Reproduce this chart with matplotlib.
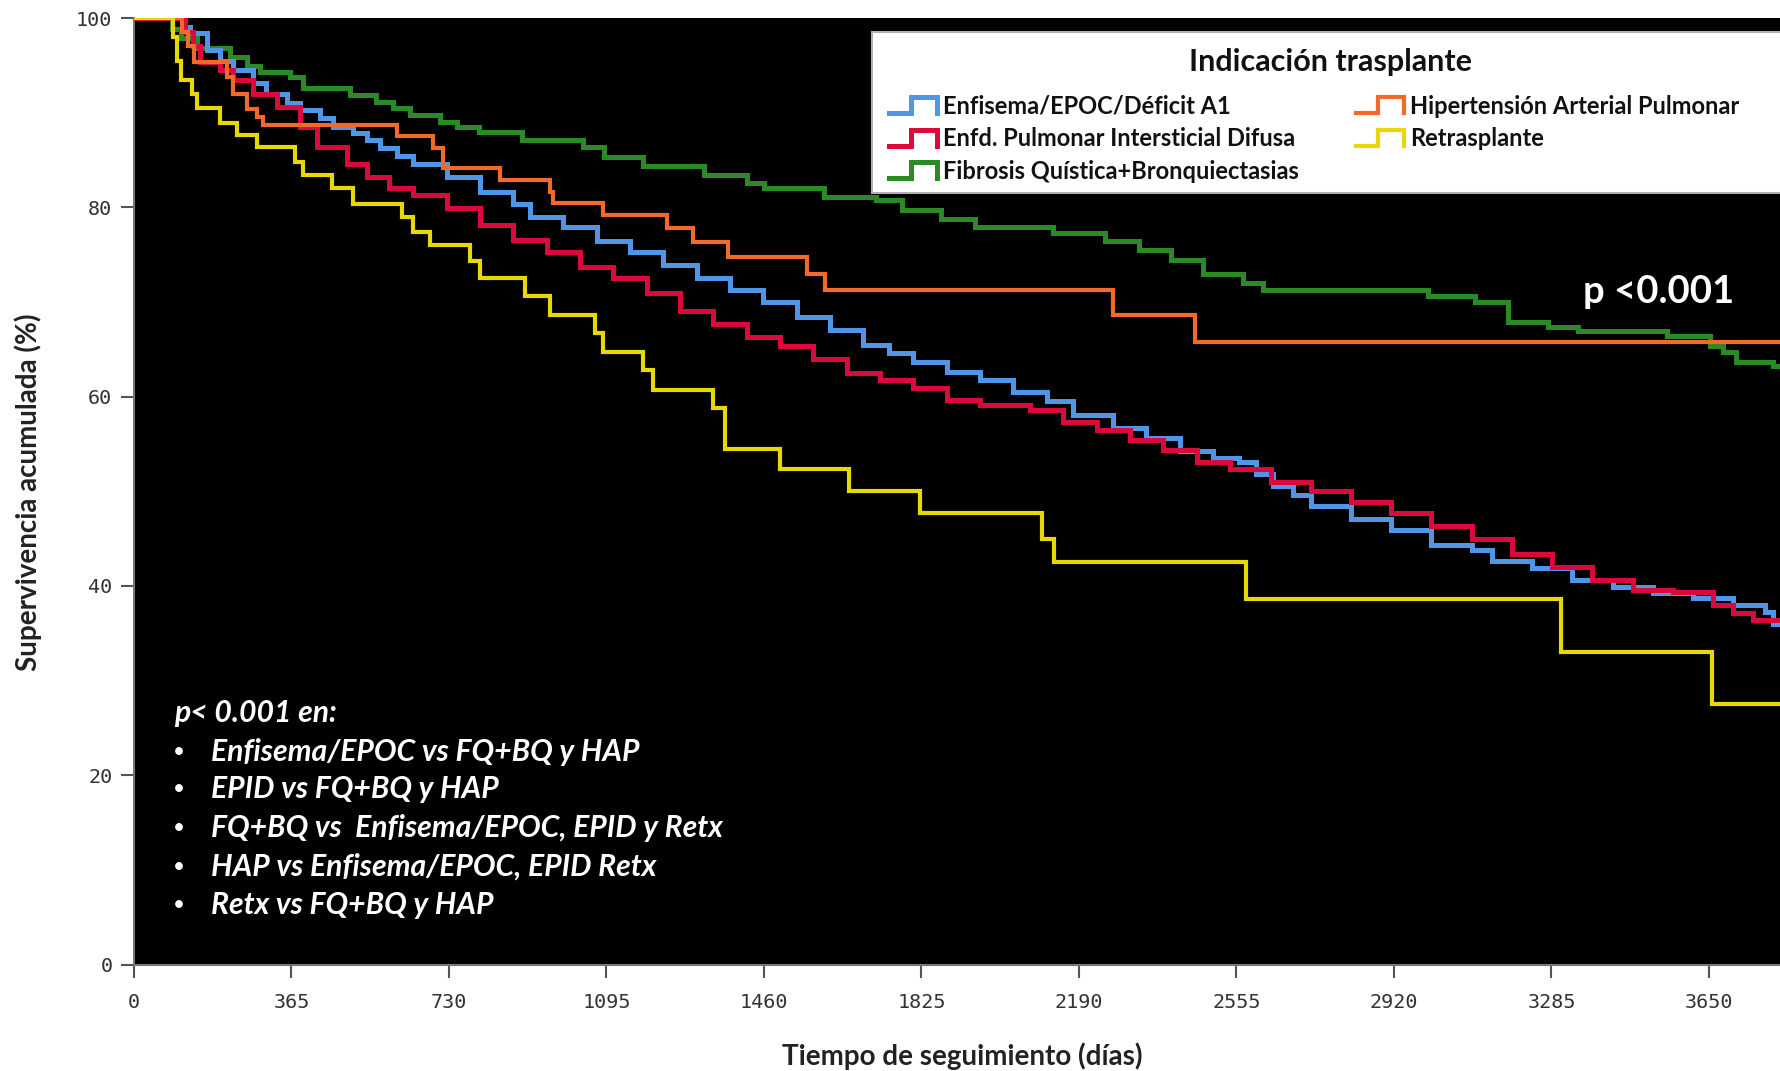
import matplotlib
matplotlib.use("Agg")
import matplotlib.pyplot as plt
from matplotlib.lines import Line2D
from matplotlib.patches import Rectangle
from matplotlib.legend_handler import HandlerBase

# Kaplan-Meier curves: day where each step starts, survival (%)
enf_t = [0, 115, 130, 169, 200, 230, 276, 307, 354, 385, 431, 462, 508, 539, 570, 610,
         647, 725, 802, 879, 917, 995, 1072, 1149, 1226, 1304, 1381, 1458, 1536, 1613,
         1690, 1750, 1805, 1884, 1960, 2037, 2115, 2176, 2269, 2346, 2424, 2501, 2560,
         2600, 2640, 2686, 2727, 2820, 2913, 3007, 3100, 3147, 3239, 3333, 3427, 3520,
         3612, 3706, 3780, 3799, 3820]
enf_s = [100, 99.0, 98.4, 96.6, 95.5, 94.5, 93.1, 92.0, 91.0, 90.3, 89.4, 88.5, 87.8, 87.1,
         86.3, 85.4, 84.6, 83.2, 81.6, 80.4, 79.0, 77.9, 76.4, 75.3, 73.9, 72.5, 71.3, 70.0,
         68.4, 67.0, 65.5, 64.6, 63.7, 62.6, 61.8, 60.5, 59.5, 58.1, 56.7, 55.6, 54.2, 53.5,
         53.1, 51.8, 50.6, 49.6, 48.4, 47.1, 45.9, 44.3, 43.8, 42.6, 41.9, 40.6, 39.9, 39.2,
         38.7, 38.0, 37.2, 36.0, 36.0]

epid_t = [0, 118, 137, 153, 199, 230, 276, 331, 385, 424, 493, 539, 590, 647, 725, 802,
          879, 957, 1033, 1110, 1188, 1265, 1342, 1420, 1497, 1574, 1652, 1728, 1805, 1884,
          1960, 2076, 2153, 2231, 2308, 2385, 2463, 2540, 2634, 2727, 2820, 2913, 3007,
          3100, 3193, 3286, 3380, 3473, 3566, 3659, 3706, 3752, 3820]
epid_s = [100, 98.5, 97.0, 95.4, 94.5, 93.5, 92.0, 90.6, 88.5, 86.4, 84.6, 83.2, 82.0, 81.3,
          79.9, 78.1, 76.5, 75.3, 73.7, 72.5, 70.9, 69.0, 67.7, 66.3, 65.3, 64.0, 62.5, 61.8,
          60.9, 59.6, 59.1, 58.6, 57.3, 56.5, 55.4, 54.4, 53.1, 52.4, 51.0, 50.0, 48.9, 47.7,
          46.3, 45.0, 43.4, 42.0, 40.6, 39.6, 39.4, 38.0, 37.1, 36.4, 36.4]

fq_t = [0, 88, 110, 145, 222, 261, 292, 361, 392, 500, 560, 600, 640, 710, 748, 800, 900,
        1040, 1090, 1180, 1320, 1420, 1460, 1600, 1720, 1780, 1870, 1950, 2130, 2250, 2328,
        2404, 2478, 2570, 2617, 3000, 3108, 3185, 3278, 3347, 3552, 3652, 3682, 3713, 3798,
        3820]
fq_s = [100, 98.8, 97.9, 96.8, 95.9, 94.9, 94.3, 93.8, 92.6, 91.9, 91.1, 90.5, 89.8, 89.0,
        88.5, 88.0, 87.1, 86.4, 85.3, 84.4, 83.4, 82.6, 82.0, 81.1, 80.8, 79.7, 78.8, 77.9,
        77.3, 76.4, 75.5, 74.4, 73.0, 72.0, 71.3, 70.6, 70.0, 67.9, 67.4, 66.9, 66.4, 65.3,
        64.7, 63.7, 63.2, 63.2]

hap_t = [0, 111, 125, 138, 215, 230, 261, 284, 299, 609, 693, 716, 848, 964, 971, 1087,
         1235, 1295, 1376, 1559, 1601, 2270, 2460, 3820]
hap_s = [100, 98.5, 97.0, 95.4, 93.8, 92.0, 90.4, 89.5, 88.7, 87.5, 86.3, 84.1, 82.9, 81.6,
         80.5, 79.2, 77.8, 76.3, 74.8, 73.0, 71.3, 68.6, 65.8, 65.8]

retx_t = [0, 91, 99, 110, 134, 145, 199, 238, 284, 373, 392, 458, 508, 621, 647, 686, 778,
          801, 906, 964, 1068, 1087, 1180, 1203, 1342, 1370, 1496, 1658, 1821, 2104, 2131,
          2577, 3306, 3658, 3820]
retx_s = [100, 98.0, 95.5, 93.5, 92.0, 90.5, 88.9, 87.6, 86.4, 84.8, 83.4, 82.0, 80.4, 79.0,
          77.4, 76.0, 74.3, 72.5, 70.6, 68.6, 66.7, 64.7, 62.8, 60.7, 58.8, 54.5, 52.3, 50.0,
          47.7, 45.0, 42.5, 38.6, 33.0, 27.5, 27.5]

labels = ["Enfisema/EPOC/Déficit A1", "Enfd. Pulmonar Intersticial Difusa",
          "Fibrosis Quística+Bronquiectasias", "Hipertensión Arterial Pulmonar", "Retrasplante"]
colors = ["#4f95e8", "#dc0a3c", "#2a8a26", "#f26a2a", "#e6d800"]

xticks = [0, 365, 730, 1095, 1460, 1825, 2190, 2555, 2920, 3285, 3650]
yticks = [0, 20, 40, 60, 80, 100]

notes = ["Enfisema/EPOC vs FQ+BQ y HAP",
         "EPID vs FQ+BQ y HAP",
         "FQ+BQ vs  Enfisema/EPOC, EPID y Retx",
         "HAP vs Enfisema/EPOC, EPID Retx",
         "Retx vs FQ+BQ y HAP"]

W, H = 1781, 1071


def fx(px):
    return px / W


def fy(py):
    return 1 - py / H


class StepHandler(HandlerBase):
    """Little stair-shaped legend key like the original software draws."""
    def create_artists(self, legend, orig_handle, xdescent, ydescent, width, height,
                       fontsize, trans):
        x0, y0 = -xdescent, -ydescent
        xs = [x0, x0 + 0.45 * width, x0 + 0.45 * width, x0 + width, x0 + width]
        ys = [y0 + 0.05 * height, y0 + 0.05 * height, y0 + 1.0 * height,
              y0 + 1.0 * height, y0 + 0.05 * height]
        line = Line2D(xs, ys, color=orig_handle.get_color(),
                      linewidth=orig_handle.get_linewidth(), solid_joinstyle="miter")
        line.set_transform(trans)
        return [line]


fig = plt.figure(figsize=(W / 100, H / 100), dpi=100)
fig.patch.set_facecolor("white")
ax = fig.add_axes([fx(134), fy(964.5), (W - 134) / W, (964.5 - 18) / H])
ax.set_facecolor("black")

series = [(enf_t, enf_s), (epid_t, epid_s), (fq_t, fq_s), (hap_t, hap_s), (retx_t, retx_s)]
widths = [3.6, 3.6, 3.6, 3.0, 3.0]
zorders = [3, 4, 2, 5, 6]
handles = []
for (t, s), lab, c, lw, z in zip(series, labels, colors, widths, zorders):
    h, = ax.step(t, s, where="post", color=c, lw=lw, label=lab, zorder=z,
                 solid_joinstyle="miter")
    handles.append(h)

ax.set_xlim(0, 3817)
ax.set_ylim(0, 100)
ax.set_xticks(xticks)
ax.set_yticks(yticks)
ax.tick_params(direction="out", length=9.5, width=1.5, color="#555555",
               labelsize=14.5, labelcolor="#333333")
ax.tick_params(axis="x", pad=11)
ax.tick_params(axis="y", pad=6)
for lbl in ax.get_xticklabels() + ax.get_yticklabels():
    lbl.set_fontfamily("DejaVu Sans Mono")
for side in ["top", "right"]:
    ax.spines[side].set_visible(False)
for side in ["left", "bottom"]:
    ax.spines[side].set_color("#777777")
    ax.spines[side].set_linewidth(1.5)

# legend box runs off the right edge like in the original
box = Rectangle((fx(872), fy(193)), fx(1800) - fx(872), (193 - 32) / H,
                transform=fig.transFigure, facecolor="white", edgecolor="#b0b0b0",
                linewidth=1.5, zorder=9)
fig.patches.append(box)
fig.text(fx(1331), fy(62), "Indicación trasplante", ha="center", va="center",
         fontsize=22, fontweight="bold", family="Lato", color="#111111", zorder=11)

leg = fig.legend(handles, labels, handler_map={Line2D: StepHandler()},
                 loc="upper left", bbox_to_anchor=(fx(889), fy(95)), ncol=2,
                 prop={"family": "Lato", "weight": "bold", "size": 17},
                 frameon=False, handlelength=2.05, handleheight=0.7, handletextpad=0.25,
                 columnspacing=2.4, labelspacing=0.4, borderpad=0, borderaxespad=0)
leg.set_zorder(10)
for t in leg.get_texts():
    t.set_color("#111111")

# texto de significacion
txt = dict(color="white", fontsize=21.7, fontstyle="italic", fontweight="bold",
           family="Lato", va="center")
fig.text(fx(174), fy(713), "p< 0.001 en:", **txt)
for i, line in enumerate(notes):
    yy = [752, 789, 828, 867, 905][i]
    fig.text(fx(173), fy(yy), "•", color="white", fontsize=15, family="Lato", va="center")
    fig.text(fx(211), fy(yy), line, **txt)

fig.text(fx(1659), fy(292), "p <0.001", ha="center", va="center", color="white",
         fontsize=27.5, fontweight="bold", family="Lato")

fig.text(fx(962), fy(1056), "Tiempo de seguimiento (días)", ha="center", va="center",
         fontsize=20, fontweight="bold", family="Lato", color="#222222")
fig.text(fx(28), fy(492), "Supervivencia acumulada (%)", ha="center", va="center",
         rotation=90, fontsize=20, fontweight="bold", family="Lato", color="#222222")

fig.savefig("out.png", dpi=100, facecolor="white")
